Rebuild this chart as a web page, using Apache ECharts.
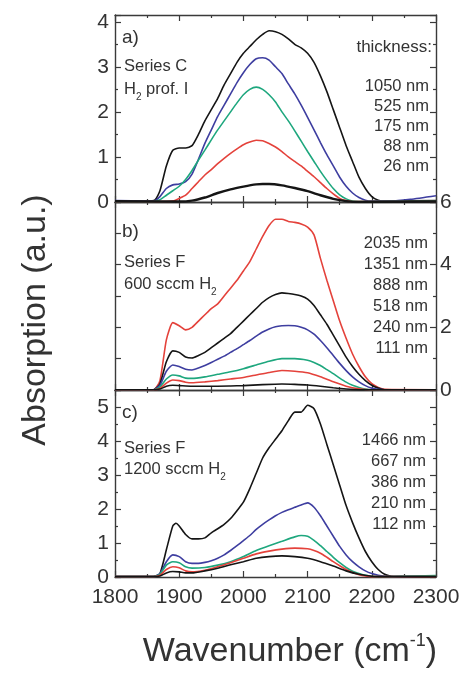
<!DOCTYPE html>
<html>
<head>
<meta charset="utf-8">
<script src="https://cdn.jsdelivr.net/npm/echarts@6/dist/echarts.min.js"></script>
<style>
  html, body { margin: 0; padding: 0; background: #fff; }
  #chart { width: 463px; height: 683px; }
</style>
</head>
<body>
<div id="chart"></div>
<script>
// wavenumber axis (cm-1)
const waveMin = 1800
const waveMax = 2300

// thickness labels per panel
const thickA = ['1050 nm', '525 nm', '175 nm', '88 nm', '26 nm']
const thickB = ['2035 nm', '1351 nm', '888 nm', '518 nm', '240 nm', '111 nm']
const thickC = ['1466 nm', '667 nm', '386 nm', '210 nm', '112 nm']

// panel a) Series C, H2 prof. I  -- [wavenumber, absorption]
const a1050 = [[1800,0.02],[1850,0.02],[1862,0.04],[1870,0.25],[1880,0.8],[1890,1.15],[1900,1.2],[1910,1.2],[1920,1.25],[1930,1.5],[1940,1.8],[1950,2.05],[1960,2.3],[1970,2.6],[1980,2.85],[1990,3.1],[2000,3.3],[2010,3.45],[2020,3.6],[2030,3.72],[2040,3.8],[2050,3.78],[2060,3.72],[2070,3.62],[2080,3.5],[2090,3.42],[2100,3.3],[2110,3.1],[2120,2.8],[2130,2.45],[2140,2.05],[2150,1.65],[2160,1.25],[2170,0.9],[2180,0.55],[2190,0.3],[2200,0.12],[2210,0.04],[2220,0.02],[2300,0.03]]
const a525 = [[1800,0.03],[1850,0.02],[1862,0.03],[1870,0.12],[1880,0.3],[1890,0.38],[1900,0.4],[1910,0.45],[1920,0.62],[1930,0.95],[1940,1.3],[1950,1.6],[1960,1.9],[1970,2.15],[1980,2.4],[1990,2.65],[2000,2.87],[2010,3.05],[2020,3.18],[2030,3.2],[2040,3.15],[2050,3.0],[2060,2.85],[2070,2.62],[2080,2.4],[2090,2.15],[2100,1.88],[2110,1.6],[2120,1.32],[2130,1.05],[2140,0.8],[2150,0.55],[2160,0.35],[2170,0.2],[2180,0.1],[2190,0.04],[2200,0.02],[2230,0.02],[2260,0.06],[2300,0.14]]
const a175 = [[1800,0.01],[1860,0.01],[1870,0.05],[1880,0.15],[1890,0.25],[1900,0.35],[1910,0.5],[1920,0.7],[1930,0.93],[1940,1.15],[1950,1.38],[1960,1.6],[1970,1.8],[1980,2.0],[1990,2.2],[2000,2.38],[2010,2.5],[2020,2.55],[2030,2.5],[2040,2.38],[2050,2.22],[2060,2.0],[2070,1.8],[2080,1.58],[2090,1.35],[2100,1.12],[2110,0.9],[2120,0.68],[2130,0.48],[2140,0.3],[2150,0.16],[2160,0.07],[2170,0.02],[2180,0.01],[2300,0.02]]
const a88 = [[1800,0.01],[1880,0.01],[1890,0.02],[1900,0.08],[1910,0.15],[1920,0.3],[1930,0.45],[1940,0.6],[1950,0.72],[1960,0.85],[1970,0.97],[1980,1.08],[1990,1.18],[2000,1.27],[2010,1.33],[2020,1.37],[2030,1.36],[2040,1.3],[2050,1.22],[2060,1.12],[2070,1.0],[2080,0.9],[2090,0.8],[2100,0.68],[2110,0.56],[2120,0.43],[2130,0.3],[2140,0.18],[2150,0.08],[2160,0.03],[2170,0.01],[2300,0.01]]
const a26 = [[1800,0.02],[1900,0.01],[1920,0.03],[1940,0.1],[1960,0.2],[1980,0.28],[2000,0.34],[2020,0.39],[2030,0.4],[2040,0.4],[2060,0.37],[2080,0.31],[2100,0.24],[2120,0.15],[2140,0.07],[2160,0.02],[2180,0.0],[2300,0.01]]

// panel b) Series F, 600 sccm H2
const b2035 = [[1800,0.01],[1860,0.01],[1870,0.3],[1880,1.6],[1890,2.15],[1900,2.05],[1910,1.92],[1920,2.0],[1930,2.2],[1940,2.4],[1950,2.6],[1960,2.75],[1970,3.0],[1980,3.25],[1990,3.5],[2000,3.8],[2010,4.1],[2020,4.5],[2030,4.9],[2040,5.25],[2050,5.45],[2060,5.45],[2070,5.38],[2080,5.35],[2090,5.3],[2100,5.2],[2110,4.95],[2120,4.2],[2130,3.5],[2140,2.85],[2150,2.2],[2160,1.65],[2170,1.15],[2180,0.75],[2190,0.42],[2200,0.2],[2210,0.08],[2220,0.02],[2300,0.01]]
const b1351 = [[1800,0.01],[1860,0.01],[1870,0.2],[1880,0.9],[1890,1.25],[1900,1.2],[1910,1.05],[1920,1.02],[1930,1.1],[1940,1.2],[1950,1.35],[1960,1.5],[1970,1.65],[1980,1.8],[1990,2.0],[2000,2.2],[2010,2.4],[2020,2.6],[2030,2.8],[2040,2.95],[2050,3.05],[2060,3.1],[2070,3.08],[2080,3.05],[2090,3.0],[2100,2.9],[2110,2.7],[2120,2.4],[2130,2.1],[2140,1.75],[2150,1.4],[2160,1.05],[2170,0.75],[2180,0.5],[2190,0.3],[2200,0.15],[2210,0.06],[2220,0.01],[2300,0.01]]
const b888 = [[1800,0.01],[1860,0.01],[1870,0.15],[1880,0.6],[1890,0.8],[1900,0.75],[1910,0.66],[1920,0.64],[1930,0.7],[1940,0.78],[1950,0.88],[1960,0.98],[1970,1.08],[1980,1.2],[1990,1.32],[2000,1.45],[2010,1.58],[2020,1.72],[2030,1.85],[2040,1.95],[2050,2.02],[2060,2.05],[2070,2.06],[2080,2.05],[2090,2.0],[2100,1.92],[2110,1.78],[2120,1.58],[2130,1.35],[2140,1.1],[2150,0.85],[2160,0.62],[2170,0.42],[2180,0.26],[2190,0.14],[2200,0.06],[2210,0.02],[2220,0.01],[2300,0.01]]
const b518 = [[1800,0.01],[1860,0.01],[1870,0.1],[1880,0.35],[1890,0.48],[1900,0.45],[1910,0.38],[1920,0.37],[1940,0.42],[1960,0.5],[1980,0.58],[2000,0.68],[2020,0.8],[2040,0.92],[2060,1.0],[2080,1.0],[2100,0.95],[2110,0.88],[2120,0.78],[2130,0.65],[2140,0.52],[2150,0.38],[2160,0.25],[2170,0.15],[2180,0.08],[2190,0.03],[2200,0.01],[2300,0.01]]
const b240 = [[1800,0.01],[1860,0.01],[1870,0.05],[1880,0.22],[1890,0.32],[1900,0.3],[1910,0.25],[1920,0.23],[1940,0.26],[1960,0.3],[1980,0.35],[2000,0.4],[2020,0.48],[2040,0.56],[2060,0.62],[2080,0.6],[2100,0.55],[2120,0.42],[2140,0.26],[2160,0.12],[2180,0.04],[2200,0.01],[2300,0.01]]
const b111 = [[1800,0.01],[1860,0.01],[1870,0.03],[1880,0.12],[1890,0.15],[1900,0.14],[1920,0.12],[1950,0.12],[1980,0.13],[2000,0.14],[2030,0.17],[2060,0.19],[2080,0.18],[2100,0.16],[2120,0.12],[2140,0.07],[2160,0.03],[2180,0.01],[2300,0.01]]

// panel c) Series F, 1200 sccm H2
const c1466 = [[1800,0.01],[1860,0.01],[1870,0.1],[1880,0.8],[1890,1.5],[1895,1.58],[1900,1.5],[1910,1.25],[1920,1.12],[1930,1.12],[1940,1.15],[1950,1.3],[1960,1.42],[1970,1.55],[1980,1.72],[1990,1.95],[2000,2.2],[2010,2.6],[2020,3.05],[2030,3.5],[2040,3.8],[2050,4.05],[2060,4.3],[2070,4.6],[2080,4.85],[2090,4.85],[2100,5.05],[2110,4.95],[2120,4.5],[2130,3.9],[2140,3.3],[2150,2.7],[2160,2.1],[2170,1.6],[2180,1.15],[2190,0.75],[2200,0.45],[2210,0.22],[2220,0.08],[2230,0.02],[2240,0.01],[2300,0.01]]
const c667 = [[1800,0.01],[1860,0.01],[1870,0.1],[1880,0.45],[1890,0.65],[1900,0.6],[1910,0.45],[1920,0.4],[1930,0.4],[1940,0.43],[1950,0.48],[1960,0.55],[1970,0.65],[1980,0.78],[1990,0.92],[2000,1.07],[2010,1.22],[2020,1.4],[2030,1.55],[2040,1.68],[2050,1.8],[2060,1.9],[2070,1.98],[2080,2.05],[2090,2.12],[2100,2.18],[2110,2.05],[2120,1.8],[2130,1.5],[2140,1.2],[2150,0.9],[2160,0.65],[2170,0.45],[2180,0.3],[2190,0.18],[2200,0.1],[2210,0.05],[2220,0.02],[2230,0.01],[2300,0.03]]
const c386 = [[1800,0.01],[1860,0.01],[1870,0.08],[1880,0.35],[1890,0.45],[1900,0.42],[1910,0.3],[1920,0.26],[1940,0.28],[1960,0.35],[1980,0.45],[2000,0.6],[2020,0.78],[2040,0.92],[2060,1.05],[2080,1.18],[2090,1.22],[2100,1.2],[2110,1.08],[2120,0.92],[2130,0.75],[2140,0.58],[2150,0.42],[2160,0.28],[2170,0.17],[2180,0.1],[2190,0.05],[2200,0.02],[2210,0.01],[2300,0.04]]
const c210 = [[1800,0.01],[1860,0.01],[1870,0.05],[1880,0.22],[1890,0.3],[1900,0.27],[1910,0.18],[1920,0.15],[1940,0.2],[1960,0.3],[1980,0.42],[2000,0.55],[2020,0.68],[2040,0.76],[2060,0.82],[2080,0.85],[2100,0.83],[2110,0.78],[2120,0.7],[2130,0.58],[2140,0.45],[2150,0.33],[2160,0.22],[2170,0.13],[2180,0.07],[2190,0.03],[2200,0.01],[2300,0.01]]
const c112 = [[1800,0.01],[1860,0.01],[1870,0.03],[1880,0.12],[1890,0.16],[1900,0.15],[1910,0.12],[1920,0.12],[1940,0.18],[1960,0.26],[1980,0.36],[2000,0.45],[2020,0.55],[2040,0.6],[2060,0.62],[2080,0.6],[2100,0.55],[2120,0.45],[2140,0.32],[2160,0.18],[2180,0.08],[2200,0.02],[2210,0.01],[2300,0.01]]

const BLACK = '#151515'
const BLUE = '#3e3ea0'
const GREEN = '#1ea77e'
const RED = '#e4423b'
const FRAME = '#3a3a3a'
const TEXT = '#333'
const FONT = '"Liberation Sans", Arial, sans-serif'

const chart = echarts.init(document.getElementById('chart'))

const grids = [
  { left: 115, right: 27, top: 15, height: 187 },
  { left: 115, right: 27, top: 202, height: 188 },
  { left: 115, right: 27, top: 390, height: 187 }
]

function xAxisCfg(gi, pos, labels) {
  return {
    type: 'value', gridIndex: gi, position: pos,
    min: waveMin, max: waveMax, interval: 100,
    axisLine: { show: true, onZero: false, lineStyle: { color: FRAME, width: 1.4 } },
    axisTick: { show: true, inside: true, length: 6, lineStyle: { color: FRAME, width: 1.2 } },
    minorTick: { show: true, splitNumber: 2, length: 3, lineStyle: { color: FRAME, width: 1.2 } },
    splitLine: { show: false },
    axisLabel: { show: labels, color: TEXT, fontSize: 21, fontFamily: FONT, margin: 10,
      showMinLabel: true, showMaxLabel: true, formatter: v => String(v) }
  }
}

const intOnly = v => (Math.abs(v - Math.round(v)) < 1e-6 ? String(Math.round(v)) : '')

function yAxisCfg(gi, pos, max, interval, minorSplit, labels) {
  return {
    type: 'value', gridIndex: gi, position: pos,
    min: 0, max: max, interval: interval,
    axisLine: { show: true, onZero: false, lineStyle: { color: FRAME, width: 1.4 } },
    axisTick: { show: true, inside: true, length: 6, lineStyle: { color: FRAME, width: 1.2 } },
    minorTick: { show: minorSplit > 1, splitNumber: minorSplit, length: 3, lineStyle: { color: FRAME, width: 1.2 } },
    splitLine: { show: false },
    axisLabel: { show: labels, color: TEXT, fontSize: 21, fontFamily: FONT,
      margin: pos === 'left' ? 6 : 4, formatter: intOnly }
  }
}

const xAxis = [
  xAxisCfg(0, 'bottom', false), xAxisCfg(0, 'top', false),
  xAxisCfg(1, 'bottom', false), xAxisCfg(1, 'top', false),
  xAxisCfg(2, 'bottom', true), xAxisCfg(2, 'top', false)
]
const yAxis = [
  yAxisCfg(0, 'left', 4.15, 1, 2, true), yAxisCfg(0, 'right', 4.15, 1, 2, false),
  yAxisCfg(1, 'left', 6, 1, 1, false), yAxisCfg(1, 'right', 6, 2, 2, true),
  yAxisCfg(2, 'left', 5.5, 1, 2, true), yAxisCfg(2, 'right', 5.5, 1, 2, false)
]

function line(gi, data, color, width) {
  return {
    type: 'line', xAxisIndex: gi * 2, yAxisIndex: gi * 2, data: data,
    showSymbol: false, smooth: 0.2, silent: true, animation: false,
    lineStyle: { color: color, width: width || 1.6 }
  }
}

const series = [
  line(0, a1050, BLACK), line(0, a525, BLUE), line(0, a175, GREEN), line(0, a88, RED), line(0, a26, BLACK, 2.4),
  line(1, b2035, RED), line(1, b1351, BLACK), line(1, b888, BLUE), line(1, b518, GREEN), line(1, b240, RED), line(1, b111, BLACK),
  line(2, c1466, BLACK), line(2, c667, BLUE), line(2, c386, GREEN), line(2, c210, RED), line(2, c112, BLACK)
]

function txt(x, y, text, size, align, rich) {
  return {
    type: 'text', x: x, y: y, silent: true,
    style: { text: text, fill: TEXT, fontSize: size, fontFamily: FONT,
      align: align || 'left', verticalAlign: 'middle', rich: rich }
  }
}

const subRich = {
  m: { fontSize: 16.5, fontFamily: FONT, fill: TEXT, lineHeight: 20 },
  s: { fontSize: 10, fontFamily: FONT, fill: TEXT, lineHeight: 26, verticalAlign: 'bottom' }
}

function column(x, y0, step, labels) {
  return labels.map((t, i) => txt(x, y0 + i * step, t, 16.5, 'right'))
}

const graphic = [
  txt(122, 38, 'a)', 19),
  txt(124, 66, 'Series C', 16.5),
  txt(124, 89, '{m|H}{s|2}{m| prof. I}', 16.5, 'left', subRich),
  txt(432, 47, 'thickness:', 17, 'right'),
  ...column(429, 86, 20, thickA),

  txt(122, 232, 'b)', 19),
  txt(124, 262, 'Series F', 16.5),
  txt(124, 284, '{m|600 sccm H}{s|2}', 16.5, 'left', subRich),
  ...column(428, 243, 21, thickB),

  txt(122, 413, 'c)', 19),
  txt(124, 448, 'Series F', 16.5),
  txt(124, 469, '{m|1200 sccm H}{s|2}', 16.5, 'left', subRich),
  ...column(426, 440, 21, thickC),

  {
    type: 'text', x: 36, y: 320, rotation: Math.PI / 2, silent: true,
    style: { text: 'Absorption (a.u.)', fill: TEXT, fontSize: 34, fontFamily: FONT,
      align: 'center', verticalAlign: 'middle' }
  },
  txt(290, 652, '{t|Wavenumber (cm}{p|-1}{t|)}', 34, 'center', {
    t: { fontSize: 34, fontFamily: FONT, fill: TEXT, lineHeight: 40 },
    p: { fontSize: 18, fontFamily: FONT, fill: TEXT, lineHeight: 40, verticalAlign: 'top' }
  })
]

chart.setOption({
  animation: false,
  backgroundColor: '#fff',
  grid: grids.map(g => Object.assign({ containLabel: false, outerBoundsMode: 'none' }, g)),
  xAxis: xAxis,
  yAxis: yAxis,
  series: series,
  graphic: graphic
})
</script>
</body>
</html>
